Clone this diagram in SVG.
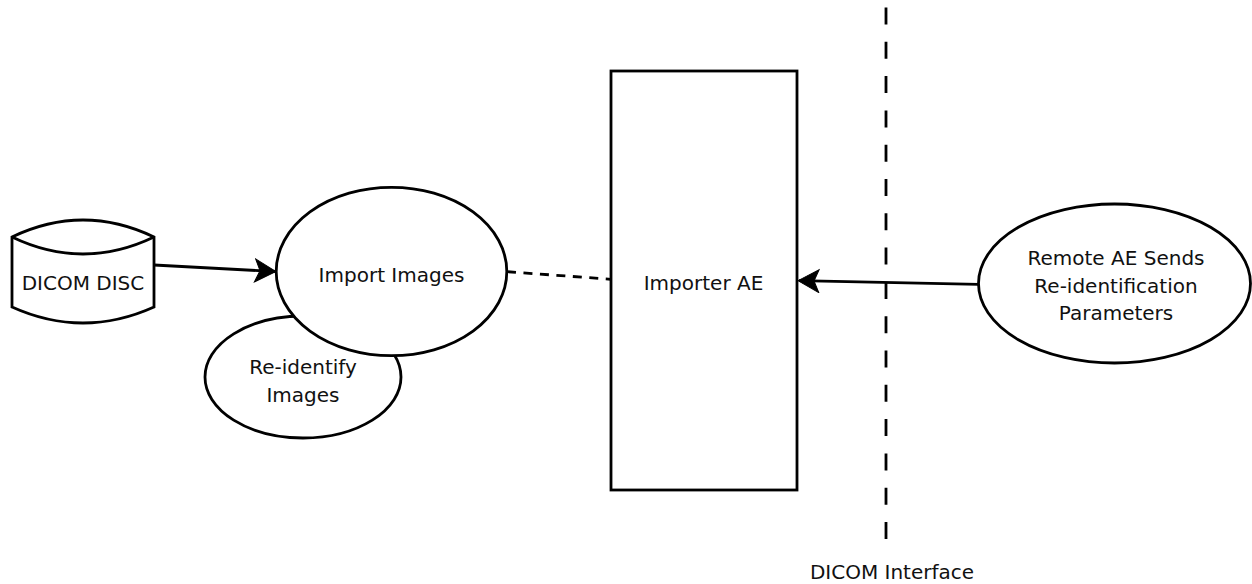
<svg xmlns="http://www.w3.org/2000/svg" width="1252" height="584" viewBox="0 0 1252 584">
<style>
.shape{fill:#fff;stroke:#000;stroke-width:2.8}
.lbl{font-family:"DejaVu Sans","Verdana",sans-serif;font-size:20px;fill:#111;text-anchor:middle}
.conn{fill:none;stroke:#000;stroke-width:2.8}
.dash{stroke-dasharray:9 7.5}
.iface{fill:none;stroke:#000;stroke-width:2.8;stroke-dasharray:17 17.3}
</style>
<defs>
<marker id="arrow" markerUnits="userSpaceOnUse" markerWidth="24" markerHeight="26" refX="21" refY="12" orient="auto" viewBox="0 0 24 26">
<path d="M22,12 L1,0.5 L6,12 L1,23.5 Z" fill="#000" stroke="#000" stroke-width="1"/>
</marker>
</defs>
<rect width="1252" height="584" fill="#fff"/>
<g id="interface">
<line class="iface" x1="886" y1="7.5" x2="886" y2="539"/>
<text class="lbl" x="892" y="579">DICOM Interface</text>
</g>
<g id="dicom-disc">
<path class="shape" d="M12,237 Q83,203 154,237 L154,307 Q83,339 12,307 Z"/>
<path class="shape" style="fill:none" d="M12,237 Q83,271 154,237"/>
<text class="lbl" x="83" y="290">DICOM DISC</text>
</g>
<g id="reidentify-images">
<ellipse class="shape" cx="303" cy="377" rx="98" ry="61"/>
<text class="lbl" x="303" y="374">Re-identify</text>
<text class="lbl" x="303" y="401.7">Images</text>
</g>
<g id="import-images">
<ellipse class="shape" cx="391.5" cy="271.5" rx="115.3" ry="84.2"/>
<text class="lbl" x="391.5" y="281.7">Import Images</text>
</g>
<g id="importer-ae">
<rect class="shape" x="611" y="71" width="186" height="419"/>
<text class="lbl" x="703.5" y="290">Importer AE</text>
</g>
<g id="remote-ae">
<ellipse class="shape" cx="1114.5" cy="283.5" rx="136" ry="79.5"/>
<text class="lbl" x="1116" y="265">Remote AE Sends</text>
<text class="lbl" x="1116" y="292.5">Re-identification</text>
<text class="lbl" x="1116" y="320">Parameters</text>
</g>
<g id="connectors">
<line class="conn" x1="154" y1="265" x2="275" y2="271.5" marker-end="url(#arrow)"/>
<line class="conn dash" x1="507" y1="271.7" x2="611" y2="279.3"/>
<line class="conn" x1="978.5" y1="284.3" x2="799" y2="280.7" marker-end="url(#arrow)"/>
</g>
</svg>
